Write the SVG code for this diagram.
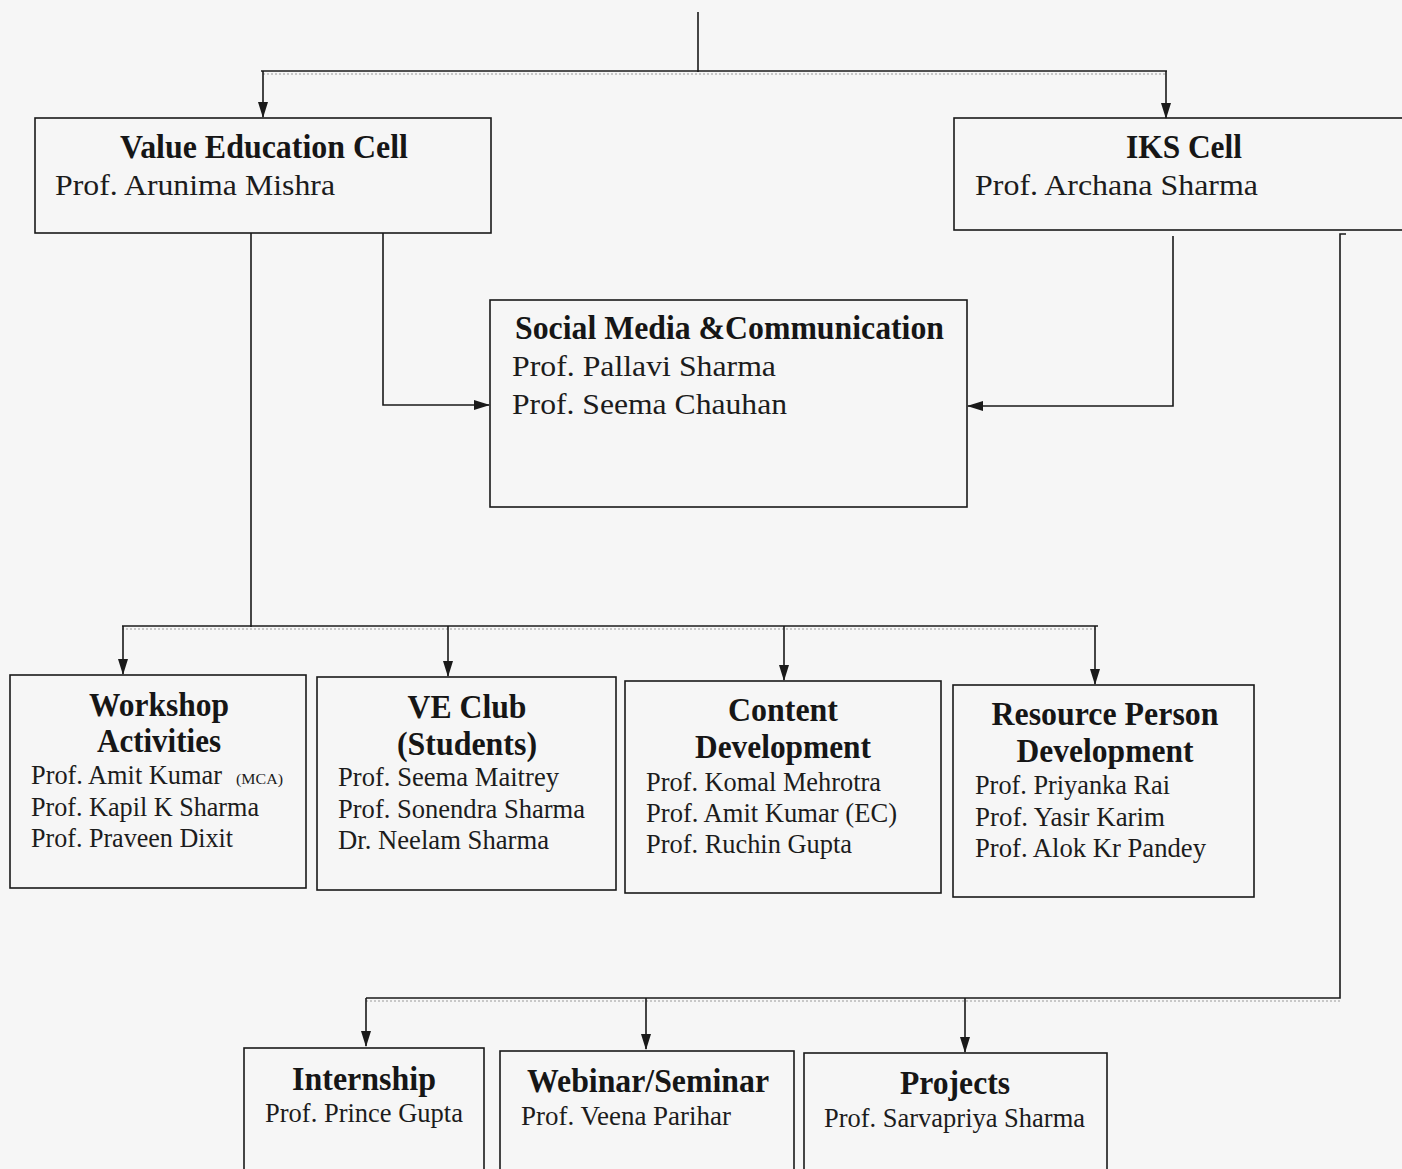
<svg xmlns="http://www.w3.org/2000/svg" width="1402" height="1169" viewBox="0 0 1402 1169">
<style>
.bg{fill:#f6f6f6}
.box{fill:none;stroke:#1a1a1a;stroke-width:1.6}
.t{font-family:"Liberation Serif","Times New Roman",serif;font-weight:bold;font-size:34px;fill:#161616}
.n{font-family:"Liberation Serif","Times New Roman",serif;font-size:30px;fill:#1c1c1c}
.s{font-family:"Liberation Serif","Times New Roman",serif;font-size:27px;fill:#1c1c1c}
.x{font-family:"Liberation Serif","Times New Roman",serif;font-size:15px;fill:#1c1c1c}
.c{fill:none;stroke:#1a1a1a;stroke-width:1.6}
.a{fill:none;stroke:#1a1a1a;stroke-width:1.6;marker-end:url(#ah)}
.g{fill:none;stroke:#9a9a9a;stroke-width:1.2;stroke-dasharray:2 2}
</style>
<defs>
<marker id="ah" markerWidth="16" markerHeight="11" refX="15" refY="5" orient="auto" markerUnits="userSpaceOnUse" viewBox="0 0 16 10">
<path d="M0,0 L16,5 L0,10 Z" fill="#1a1a1a"/>
</marker>
</defs>
<rect class="bg" x="0" y="0" width="1402" height="1169"/>

<g id="connectors">
<line class="c" x1="698" y1="12" x2="698" y2="72"/>
<line class="c" x1="261" y1="71" x2="1167" y2="71"/>
<line class="g" x1="263" y1="74" x2="1167" y2="74"/>
<line class="a" x1="263" y1="71" x2="263" y2="117"/>
<line class="a" x1="1166" y1="71" x2="1166" y2="118"/>

<line class="c" x1="251" y1="233" x2="251" y2="627"/>
<polyline class="a" points="383,233 383,405 489,405"/>
<polyline class="a" points="1173,236 1173,406 968,406"/>

<line class="c" x1="122" y1="626" x2="1098" y2="626"/>
<line class="g" x1="122" y1="629" x2="1098" y2="629"/>
<line class="a" x1="123" y1="626" x2="123" y2="674"/>
<line class="a" x1="448" y1="626" x2="448" y2="676"/>
<line class="a" x1="784" y1="626" x2="784" y2="680"/>
<line class="a" x1="1095" y1="626" x2="1095" y2="684"/>

<polyline class="c" points="1346,234 1340,234 1340,998 366,998"/>
<line class="g" x1="366" y1="1001" x2="1340" y2="1001"/>
<line class="a" x1="366" y1="998" x2="366" y2="1046"/>
<line class="a" x1="646" y1="998" x2="646" y2="1049"/>
<line class="a" x1="965" y1="998" x2="965" y2="1052"/>
</g>

<g id="value-education-cell">
<rect class="box" x="35" y="118" width="456" height="115"/>
<text class="t" x="264" y="158" text-anchor="middle" textLength="288" lengthAdjust="spacingAndGlyphs">Value Education Cell</text>
<text class="n" x="55" y="195" textLength="280" lengthAdjust="spacingAndGlyphs">Prof. Arunima Mishra</text>
</g>

<g id="iks-cell">
<rect class="box" x="954" y="118" width="470" height="112"/>
<text class="t" x="1184" y="158" text-anchor="middle" textLength="116" lengthAdjust="spacingAndGlyphs">IKS Cell</text>
<text class="n" x="975" y="195" textLength="283" lengthAdjust="spacingAndGlyphs">Prof. Archana Sharma</text>
</g>

<g id="social-media">
<rect class="box" x="490" y="300" width="477" height="207"/>
<text class="t" x="515" y="339" textLength="429" lengthAdjust="spacingAndGlyphs">Social Media &amp;Communication</text>
<text class="n" x="512" y="376" textLength="264" lengthAdjust="spacingAndGlyphs">Prof. Pallavi Sharma</text>
<text class="n" x="512" y="414" textLength="275" lengthAdjust="spacingAndGlyphs">Prof. Seema Chauhan</text>
</g>

<g id="workshop-activities">
<rect class="box" x="10" y="675" width="296" height="213"/>
<text class="t" x="159" y="716" text-anchor="middle" textLength="140" lengthAdjust="spacingAndGlyphs">Workshop</text>
<text class="t" x="159" y="752" text-anchor="middle" textLength="124" lengthAdjust="spacingAndGlyphs">Activities</text>
<text class="s" x="31" y="784" textLength="191" lengthAdjust="spacingAndGlyphs">Prof. Amit Kumar</text>
<text class="x" x="236" y="784" textLength="47" lengthAdjust="spacingAndGlyphs">(MCA)</text>
<text class="s" x="31" y="816" textLength="228" lengthAdjust="spacingAndGlyphs">Prof. Kapil K Sharma</text>
<text class="s" x="31" y="847" textLength="202" lengthAdjust="spacingAndGlyphs">Prof. Praveen Dixit</text>
</g>

<g id="ve-club">
<rect class="box" x="317" y="677" width="299" height="213"/>
<text class="t" x="467" y="718" text-anchor="middle" textLength="119" lengthAdjust="spacingAndGlyphs">VE Club</text>
<text class="t" x="467" y="755" text-anchor="middle" textLength="140" lengthAdjust="spacingAndGlyphs">(Students)</text>
<text class="s" x="338" y="786" textLength="221" lengthAdjust="spacingAndGlyphs">Prof. Seema Maitrey</text>
<text class="s" x="338" y="818" textLength="247" lengthAdjust="spacingAndGlyphs">Prof. Sonendra Sharma</text>
<text class="s" x="338" y="849" textLength="211" lengthAdjust="spacingAndGlyphs">Dr. Neelam Sharma</text>
</g>

<g id="content-development">
<rect class="box" x="625" y="681" width="316" height="212"/>
<text class="t" x="783" y="721" text-anchor="middle" textLength="110" lengthAdjust="spacingAndGlyphs">Content</text>
<text class="t" x="783" y="758" text-anchor="middle" textLength="176" lengthAdjust="spacingAndGlyphs">Development</text>
<text class="s" x="646" y="791" textLength="235" lengthAdjust="spacingAndGlyphs">Prof. Komal Mehrotra</text>
<text class="s" x="646" y="822" textLength="251" lengthAdjust="spacingAndGlyphs">Prof. Amit Kumar (EC)</text>
<text class="s" x="646" y="853" textLength="206" lengthAdjust="spacingAndGlyphs">Prof. Ruchin Gupta</text>
</g>

<g id="resource-person-development">
<rect class="box" x="953" y="685" width="301" height="212"/>
<text class="t" x="1105" y="725" text-anchor="middle" textLength="227" lengthAdjust="spacingAndGlyphs">Resource Person</text>
<text class="t" x="1105" y="762" text-anchor="middle" textLength="177" lengthAdjust="spacingAndGlyphs">Development</text>
<text class="s" x="975" y="794" textLength="195" lengthAdjust="spacingAndGlyphs">Prof. Priyanka Rai</text>
<text class="s" x="975" y="826" textLength="190" lengthAdjust="spacingAndGlyphs">Prof. Yasir Karim</text>
<text class="s" x="975" y="857" textLength="231" lengthAdjust="spacingAndGlyphs">Prof. Alok Kr Pandey</text>
</g>

<g id="internship">
<rect class="box" x="244" y="1048" width="240" height="130"/>
<text class="t" x="364" y="1090" text-anchor="middle" textLength="144" lengthAdjust="spacingAndGlyphs">Internship</text>
<text class="s" x="265" y="1122" textLength="198" lengthAdjust="spacingAndGlyphs">Prof. Prince Gupta</text>
</g>

<g id="webinar-seminar">
<rect class="box" x="500" y="1051" width="294" height="130"/>
<text class="t" x="648" y="1092" text-anchor="middle" textLength="242" lengthAdjust="spacingAndGlyphs">Webinar/Seminar</text>
<text class="s" x="521" y="1125" textLength="210" lengthAdjust="spacingAndGlyphs">Prof. Veena Parihar</text>
</g>

<g id="projects">
<rect class="box" x="804" y="1053" width="303" height="130"/>
<text class="t" x="955" y="1094" text-anchor="middle" textLength="110" lengthAdjust="spacingAndGlyphs">Projects</text>
<text class="s" x="824" y="1127" textLength="261" lengthAdjust="spacingAndGlyphs">Prof. Sarvapriya Sharma</text>
</g>
</svg>
